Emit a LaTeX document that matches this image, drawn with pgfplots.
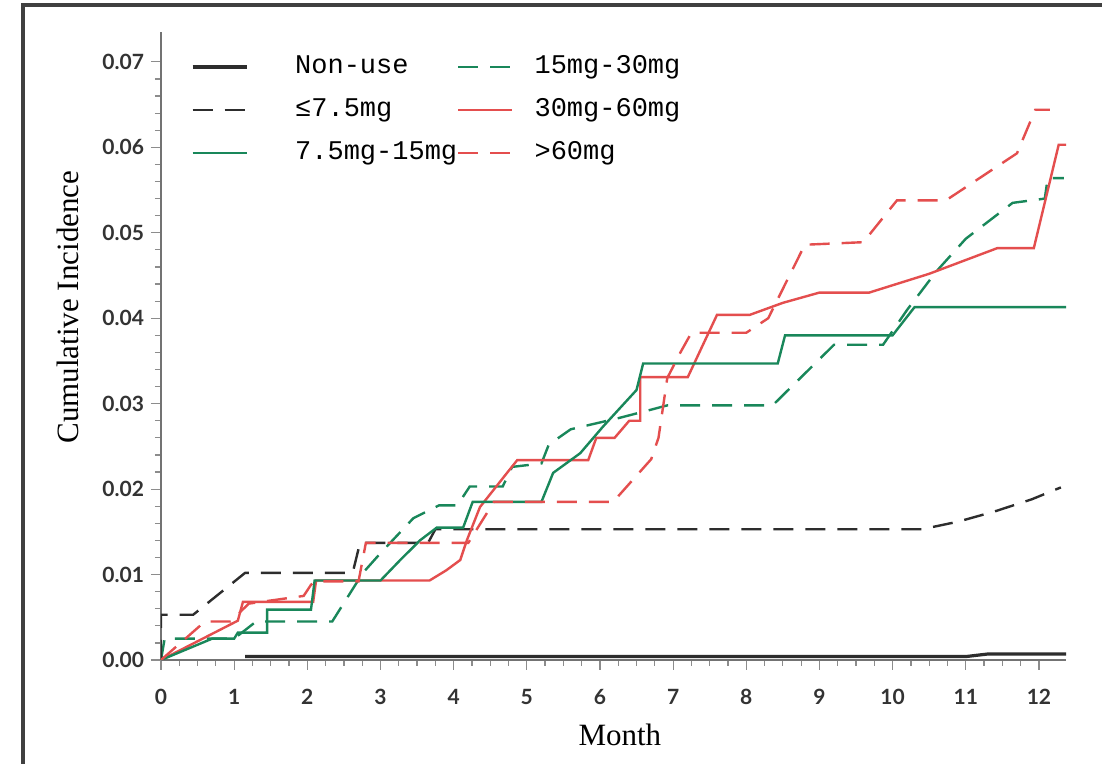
\documentclass[border=0pt]{standalone}
\usepackage{fontspec}
\setmainfont{Liberation Serif}
\newfontfamily\monofont{Liberation Mono}
\newfontfamily\tickfont{Lato}
\usepackage{pgfplots}
\pgfplotsset{compat=1.18}
\definecolor{redc}{RGB}{228,78,78}
\definecolor{greenc}{RGB}{25,135,90}
\definecolor{blackc}{RGB}{45,45,45}
\begin{document}
\begin{tikzpicture}
\useasboundingbox (-80.5pt,-52pt) rectangle (470.5pt,330pt);
\fill[white] (-80.5pt,-52pt) rectangle (470.5pt,330pt);
\draw[line width=1.8pt, black!75] (-69pt,-52pt) -- (-69pt,327.5pt) -- (470.5pt,327.5pt);
\begin{axis}[
 at={(0,0)}, anchor=south west, scale only axis,
 width=452.5pt, height=314pt,
 xmin=0, xmax=12.37, ymin=0, ymax=0.0735,
 axis lines=left, axis line style={-, black!55, line width=0.8pt},
 xtick={0,1,2,3,4,5,6,7,8,9,10,11,12}, minor x tick num=3,
 ytick={0,0.01,0.02,0.03,0.04,0.05,0.06,0.07}, minor y tick num=4,
 tick align=outside, major tick length=5pt, minor tick length=3pt,
 tick style={black!45, line width=0.6pt},
 scaled y ticks=false,
 /pgf/number format/assume math mode=true,
 yticklabel style={/pgf/number format/.cd, fixed, fixed zerofill, precision=2},
 tick label style={font=\tickfont\bfseries\fontsize{10.5}{12}\selectfont, text=black!80},
 xticklabel style={yshift=-6pt},
 xlabel={Month}, ylabel={Cumulative Incidence},
 label style={font=\fontsize{15.5}{18}\selectfont},
 xlabel style={at={(axis description cs:0.507,-0.119)}, anchor=center},
 ylabel style={at={(axis description cs:-0.103,0.562)}, anchor=center},
 legend columns=2,
 legend cell align=left,
 legend style={at={(axis description cs:0.0331,0.9634)}, anchor=north west, draw=none, fill=none,
   inner sep=0pt, outer sep=0pt,
   font=\monofont\fontsize{13.5}{16}\selectfont, column sep=0pt, row sep=9.5pt,
   nodes={inner xsep=0pt, inner ysep=0pt, text height=9.5pt, text depth=2.5pt}},
 legend image code/.code={\draw[#1] (0pt,0pt) -- (27pt,0pt);},
 every axis plot/.append style={line width=1.2pt},
]
\addplot[blackc, line width=1.6pt] coordinates {(1.15,0.0004) (11.0,0.0004) (11.3,0.0007) (12.37,0.0007)};
\addlegendentry{\hspace*{23.5pt}Non-use}
\addplot[greenc, dash pattern=on 10pt off 6pt] coordinates {(0,0) (0.05,0.0025) (1.0,0.0025) (1.3,0.0045) (2.34,0.0045) (2.76,0.0102) (3.0,0.0125) (3.45,0.0166) (3.8,0.0181) (4.05,0.0181) (4.22,0.0203) (4.67,0.0203) (4.8,0.0226) (5.2,0.023) (5.3,0.0252) (5.6,0.027) (5.85,0.0275) (6.25,0.0283) (6.7,0.0293) (6.92,0.0298) (8.36,0.0298) (9.2,0.0369) (9.87,0.0369) (10.2,0.041) (10.6,0.0455) (11.0,0.0493) (11.64,0.0535) (12.08,0.054) (12.12,0.0564) (12.34,0.0564)};
\addlegendentry{\hspace*{10.5pt}15mg-30mg}
\addplot[blackc, dash pattern=on 10pt off 6pt] coordinates {(0,0) (0,0.0053) (0.44,0.0053) (1.15,0.0102) (2.62,0.0102) (2.72,0.0137) (3.65,0.0137) (3.75,0.0153) (10.4,0.0153) (10.9,0.0162) (11.4,0.0174) (11.9,0.0188) (12.3,0.0202)};
\addlegendentry{\hspace*{23.5pt}≤7.5mg}
\addplot[redc] coordinates {(0,0) (1.05,0.0046) (1.12,0.0068) (2.08,0.0068) (2.12,0.0093) (3.67,0.0093) (3.9,0.0105) (4.09,0.0117) (4.18,0.014) (4.36,0.0179) (4.73,0.0219) (4.87,0.0234) (5.84,0.0234) (5.95,0.026) (6.2,0.026) (6.4,0.028) (6.55,0.028) (6.55,0.0331) (7.2,0.0331) (7.6,0.0404) (8.05,0.0404) (8.5,0.0418) (9.0,0.043) (9.68,0.043) (10.5,0.0452) (11.43,0.0482) (11.93,0.0482) (12.27,0.0603) (12.37,0.0603)};
\addlegendentry{\hspace*{10.5pt}30mg-60mg}
\addplot[greenc] coordinates {(0,0) (0.7,0.0025) (1.0,0.0025) (1.05,0.0032) (1.45,0.0032) (1.45,0.0059) (2.05,0.0059) (2.1,0.0093) (3.0,0.0093) (3.27,0.0117) (3.54,0.014) (3.77,0.0155) (4.13,0.0155) (4.26,0.0185) (5.2,0.0185) (5.36,0.0219) (5.73,0.0242) (6.04,0.0273) (6.5,0.0316) (6.59,0.0347) (8.43,0.0347) (8.53,0.038) (10.0,0.038) (10.3,0.0413) (12.37,0.0413)};
\addlegendentry{\hspace*{23.5pt}7.5mg-15mg}
\addplot[redc, dash pattern=on 10pt off 6pt] coordinates {(0,0) (0.6,0.0045) (0.95,0.0045) (1.2,0.0066) (1.95,0.0075) (2.05,0.0088) (2.1,0.0092) (2.7,0.0092) (2.8,0.0137) (4.2,0.0137) (4.55,0.0185) (6.18,0.0185) (6.7,0.0235) (6.8,0.026) (6.92,0.033) (7.1,0.036) (7.25,0.0383) (8.0,0.0383) (8.3,0.040) (8.8,0.0486) (9.6,0.0489) (10.06,0.0538) (10.73,0.0538) (11.7,0.0593) (11.95,0.0644) (12.15,0.0644)};
\addlegendentry{\hspace*{10.5pt}>60mg}
\end{axis}
\end{tikzpicture}
\end{document}
